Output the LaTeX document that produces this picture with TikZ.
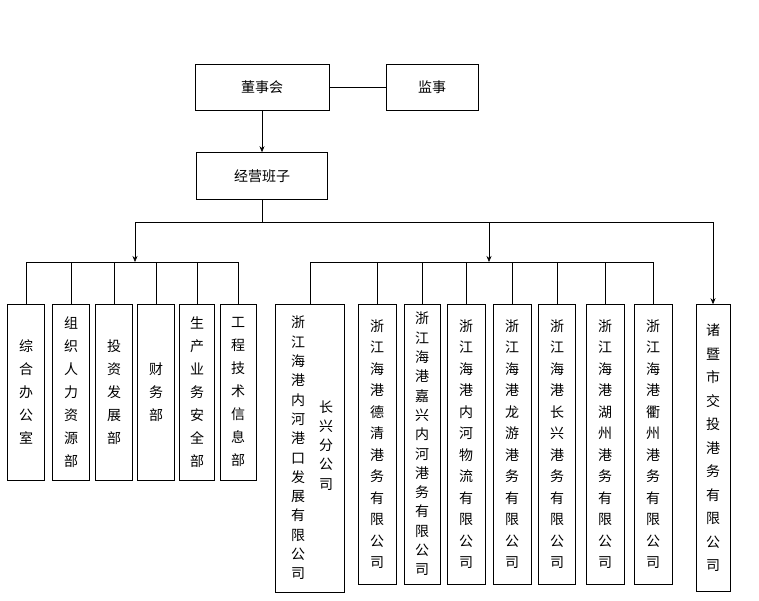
\documentclass[tikz,border=0pt]{standalone}
\usepackage{fontspec}
\newfontfamily\cjk{Noto Sans CJK SC}
\usetikzlibrary{arrows.meta,positioning}
\begin{document}
\begin{tikzpicture}[x=1pt,y=-1pt,
    box/.style={rectangle, draw=black, semithick, align=center, inner sep=0pt, font=\cjk\fontsize{14}{23}\selectfont},
    col/.style={box, minimum width=37pt, minimum height=176pt},
    sub/.style={box, minimum width=38pt, minimum height=280pt, font=\cjk\fontsize{14}{21.5}\selectfont},
    tight/.style={font=\cjk\fontsize{14}{19.3}\selectfont},
    arrow/.style={-{Stealth[length=6pt,width=5pt]}, semithick},
    line/.style={semithick}
]
\useasboundingbox (0,0) rectangle (759,600);

% Top
\node[box, minimum width=134pt, minimum height=46pt] (board) at (262,87) {董事会};
\node[box, minimum width=92pt, minimum height=46pt] (sup) at (432,87) {监事};
\node[box, minimum width=131pt, minimum height=47pt] (mgmt) at (262,176) {经营班子};
\draw[line] (board) -- (sup);
\draw[arrow] (board) -- (mgmt);

% Departments
\node[col] (d1) at (26,392) {综\\合\\办\\公\\室};
\node[col] (d2) at (71,392) {组\\织\\人\\力\\资\\源\\部};
\node[col] (d3) at (114,392) {投\\资\\发\\展\\部};
\node[col] (d4) at (156,392) {财\\务\\部};
\node[col, minimum width=35pt] (d5) at (197,392) {生\\产\\业\\务\\安\\全\\部};
\node[col, minimum width=36pt] (d6) at (238,392) {工\\程\\技\\术\\信\\息\\部};

% Companies
\node[sub, minimum width=69pt, minimum height=288pt] (c1) at (310,448) {};
\node[box, tight, draw=none] at (298,448) {浙\\江\\海\\港\\内\\河\\港\\口\\发\\展\\有\\限\\公\\司};
\node[box, tight, draw=none, anchor=north] at (326,400) {长\\兴\\分\\公\\司};
\node[sub] (c2) at (377,444) {浙\\江\\海\\港\\德\\清\\港\\务\\有\\限\\公\\司};
\node[sub, tight, minimum width=36pt] (c3) at (422,444) {浙\\江\\海\\港\\嘉\\兴\\内\\河\\港\\务\\有\\限\\公\\司};
\node[sub] (c4) at (466,444) {浙\\江\\海\\港\\内\\河\\物\\流\\有\\限\\公\\司};
\node[sub] (c5) at (512,444) {浙\\江\\海\\港\\龙\\游\\港\\务\\有\\限\\公\\司};
\node[sub, minimum width=37pt] (c6) at (557,444) {浙\\江\\海\\港\\长\\兴\\港\\务\\有\\限\\公\\司};
\node[sub] (c7) at (605,444) {浙\\江\\海\\港\\湖\\州\\港\\务\\有\\限\\公\\司};
\node[sub] (c8) at (653,444) {浙\\江\\海\\港\\衢\\州\\港\\务\\有\\限\\公\\司};
\node[sub, minimum width=34pt, minimum height=287pt, font=\cjk\fontsize{14}{23.5}\selectfont] (c9) at (713,448) {诸\\暨\\市\\交\\投\\港\\务\\有\\限\\公\\司};

% Connectors
\coordinate (split) at (262,222);
\coordinate (lbus) at (135,262);
\coordinate (rbus) at (489,262);
\draw[line] (mgmt) -- (split);
\draw[line] (135,222) -- (c9.north |- split);
\draw[arrow] (135,222) -- (lbus);
\draw[arrow] (489,222) -- (rbus);
\draw[arrow] (c9.north |- split) -- (c9.north);
\draw[line] (d1.north |- lbus) -- (d6.north |- lbus);
\foreach \d in {d1,d2,d3,d4,d5,d6}
    \draw[line] (\d.north |- lbus) -- (\d.north);
\draw[line] (c1.north |- rbus) -- (c8.north |- rbus);
\foreach \c in {c1,c2,c3,c4,c5,c6,c7,c8}
    \draw[line] (\c.north |- rbus) -- (\c.north);

\end{tikzpicture}
\end{document}
